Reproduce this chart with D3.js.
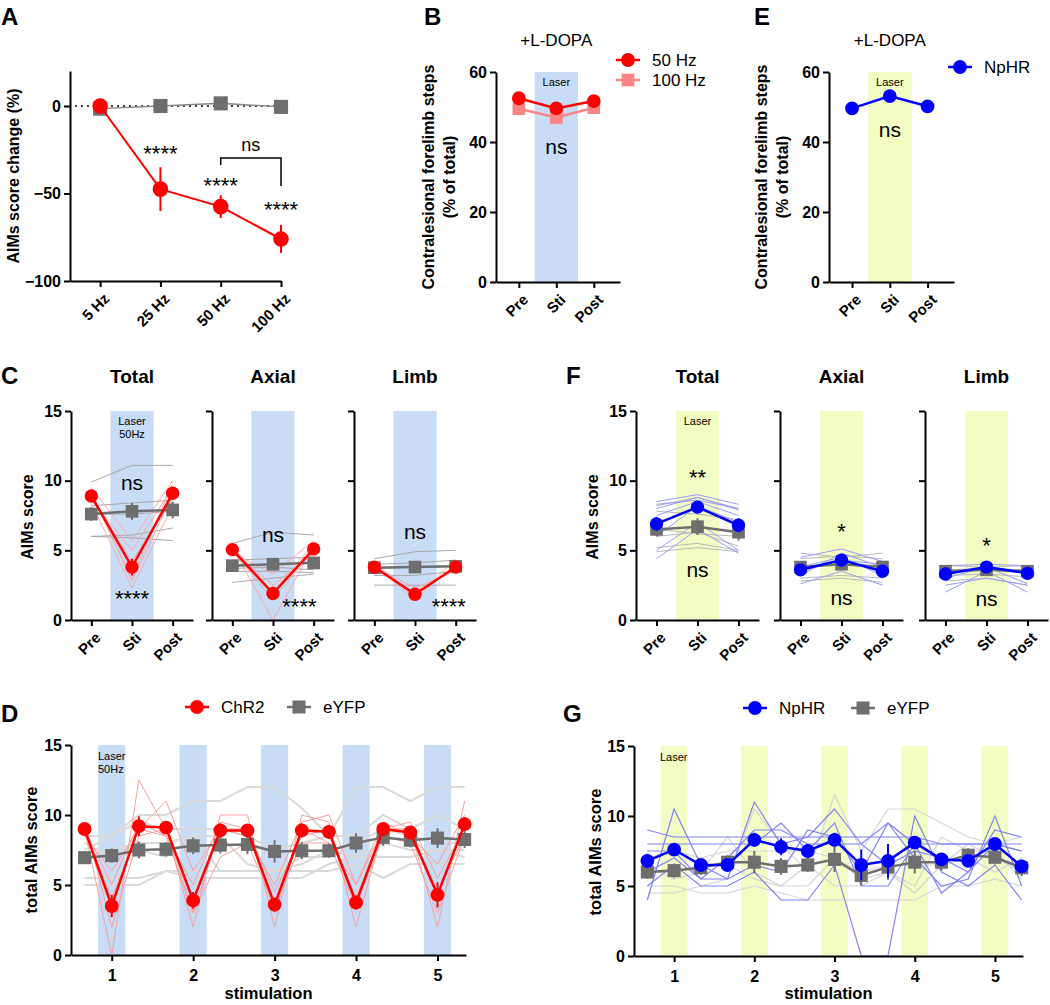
<!DOCTYPE html>
<html>
<head>
<meta charset="UTF-8">
<title>AIMs figure</title>
<script src="https://cdn.jsdelivr.net/npm/d3@7"></script>
<style>
body { margin: 0; background: #fff; }
svg text { font-family: "Liberation Sans", Arial, sans-serif; }
</style>
</head>
<body>
<svg id="fig" width="1050" height="1005"></svg>
<script>
// ---------- data ----------
// A: frequency dependence
var freqLabels = ["5 Hz", "25 Hz", "50 Hz", "100 Hz"];
var aChR2 = [0, -47.5, -57.5, -76];
var aChR2Err = [0, 12.5, 6.5, 8];
var aEyfp = [-1.5, 0, 1.5, -0.5];

// B / E: forelimb steps
var phases = ["Pre", "Sti", "Post"];
var b50Hz = [52.5, 49.6, 51.7];
var b100Hz = [49.5, 47.0, 49.8];
var eNpHR = [49.6, 53.1, 50.2];

// C: ChR2 vs eYFP, AIMs scores (Total, Axial, Limb)
var cTitles = ["Total", "Axial", "Limb"];
var cChR2 = [[8.9, 3.8, 9.1], [5.05, 1.9, 5.1], [3.8, 1.85, 3.8]];
var cChR2Err = [[0.3, 0.6, 0.3], [0.2, 0.35, 0.2], [0.15, 0.2, 0.2]];
var cEyfp = [[7.6, 7.8, 7.9], [3.9, 4.0, 4.1], [3.75, 3.8, 3.85]];
var cEyfpErr = [[0.5, 0.6, 0.6], [0.3, 0.3, 0.3], [0.2, 0.2, 0.2]];
var cChR2Ind = [
  [[9.5, 5.7, 10.0], [8.6, 5.0, 9.5], [8.8, 4.2, 8.7], [9.2, 2.8, 9.0], [8.4, 2.3, 8.2], [9.0, 3.0, 9.8]],
  [[4.8, 3.3, 5.7], [5.2, 0.0, 5.3], [5.0, 2.5, 4.8], [4.9, 1.5, 5.0], [5.3, 2.0, 5.5]],
  [[3.9, 1.5, 4.0], [3.6, 2.0, 3.7], [4.1, 1.7, 4.3], [3.8, 2.3, 3.5]]
];
var cEyfpInd = [
  [[9.9, 11.1, 11.1], [8.2, 8.4, 8.6], [6.0, 6.1, 6.6], [6.0, 5.9, 5.7], [7.6, 7.6, 7.8]],
  [[5.5, 6.3, 6.1], [4.3, 4.4, 4.5], [2.7, 3.0, 3.3], [3.5, 3.5, 3.4], [3.7, 3.8, 3.6]],
  [[4.4, 4.9, 5.0], [2.5, 2.5, 2.5], [3.2, 3.2, 3.5], [4.0, 4.1, 4.3], [3.7, 3.8, 3.9]]
];
var cStats = [["ns", "****"], ["ns", "****"], ["ns", "****"]];

// F: NpHR vs eYFP
var fNpHR = [[6.9, 8.1, 6.8], [3.6, 4.3, 3.5], [3.3, 3.8, 3.35]];
var fNpHRErr = [[0.5, 0.4, 0.5], [0.2, 0.3, 0.2], [0.2, 0.2, 0.2]];
var fEyfp = [[6.5, 6.7, 6.3], [3.8, 4.0, 3.8], [3.5, 3.6, 3.5]];
var fEyfpErr = [[0.5, 0.6, 0.6], [0.3, 0.3, 0.3], [0.2, 0.2, 0.2]];
var fNpHRInd = [
  [[8.5, 9.0, 8.3], [8.0, 8.8, 7.9], [7.5, 8.5, 7.5], [5.0, 7.0, 5.0], [4.4, 6.5, 4.8], [6.0, 8.2, 7.0], [8.3, 8.6, 8.0]],
  [[3.2, 4.8, 3.8], [2.6, 3.5, 2.5], [4.5, 5.1, 4.2], [3.8, 4.5, 3.2], [3.5, 4.3, 4.0]],
  [[2.0, 3.5, 2.0], [3.9, 4.0, 3.9], [3.0, 3.8, 2.6], [2.5, 3.0, 2.5]]
];
var fEyfpInd = [
  [[8.2, 8.8, 8.0], [6.0, 6.3, 5.3], [5.2, 5.5, 5.0], [4.9, 5.2, 4.9], [7.8, 7.6, 7.2], [6.5, 6.2, 6.0]],
  [[4.8, 4.5, 4.8], [4.4, 4.6, 4.4], [3.0, 3.2, 3.0], [2.8, 3.0, 2.7], [3.8, 4.0, 3.9]],
  [[3.9, 3.8, 3.9], [2.8, 3.0, 2.5], [3.2, 3.3, 3.1], [3.6, 3.7, 3.6]]
];
var fStats = [["**", "ns"], ["*", "ns"], ["*", "ns"]];

// D / G: total AIMs across 5 stimulations (pre, sti, post triplets)
var stimTicks = [1, 2, 3, 4, 5];
var dChR2 = [9.0, 3.5, 9.2, 9.1, 3.9, 8.9, 8.9, 3.6, 8.9, 8.8, 3.75, 9.0, 8.75, 4.3, 9.35];
var dChR2Err = [0.3, 0.8, 0.7, 0.4, 0.6, 0.5, 0.4, 0.5, 0.5, 0.5, 0.5, 0.4, 0.4, 0.9, 0.5];
var dEyfp = [6.95, 7.1, 7.5, 7.55, 7.8, 7.85, 7.9, 7.4, 7.45, 7.45, 8.0, 8.4, 8.2, 8.35, 8.25];
var dEyfpErr = [0.4, 0.5, 0.6, 0.5, 0.6, 0.6, 0.7, 0.8, 0.6, 0.5, 0.7, 0.6, 0.5, 0.7, 0.6];
var dChR2Ind = [
  [9.0, 0.0, 12.5, 9.0, 2.0, 10.0, 10.0, 2.0, 10.0, 9.5, 2.0, 9.0, 9.0, 2.0, 11.0],
  [8.5, 6.0, 9.0, 11.0, 6.0, 9.0, 8.5, 5.0, 9.5, 10.0, 5.0, 9.5, 8.5, 6.5, 10.0],
  [9.5, 2.0, 8.5, 9.0, 3.0, 7.0, 8.0, 3.5, 8.0, 8.0, 3.5, 8.5, 8.0, 3.0, 8.5],
  [9.0, 5.0, 9.5, 8.5, 5.0, 9.5, 9.0, 4.5, 8.5, 9.0, 4.0, 9.0, 9.5, 5.5, 9.0],
  [9.0, 4.0, 9.0, 8.5, 3.0, 9.0, 9.0, 3.0, 9.0, 8.0, 5.0, 9.0, 9.0, 4.5, 8.5]
];
var dEyfpInd = [
  [7.5, 8.5, 10.0, 10.0, 11.0, 11.0, 12.0, 12.0, 10.5, 8.5, 12.0, 12.0, 11.0, 12.0, 12.0],
  [8.5, 8.5, 9.5, 9.0, 9.0, 9.0, 8.5, 7.5, 8.0, 8.5, 8.5, 10.0, 9.0, 10.0, 9.0],
  [5.5, 5.5, 5.5, 6.0, 6.0, 6.0, 6.0, 6.0, 6.0, 6.0, 6.5, 5.5, 6.5, 6.5, 6.5],
  [5.0, 5.0, 5.0, 6.0, 5.5, 5.5, 5.5, 5.5, 5.5, 6.5, 7.0, 7.0, 7.0, 7.5, 7.0],
  [7.0, 7.5, 8.0, 8.0, 8.5, 8.5, 6.5, 6.0, 6.5, 7.5, 7.0, 8.0, 7.5, 7.5, 7.5],
  [8.0, 7.0, 7.5, 7.0, 8.5, 6.0, 6.0, 6.0, 7.0, 7.0, 8.0, 9.0, 8.5, 8.0, 8.0]
];
var gNpHR = [6.8, 7.6, 6.5, 6.5, 8.3, 7.8, 7.5, 8.3, 6.5, 6.8, 8.1, 6.9, 6.8, 8.0, 6.4];
var gNpHRErr = [0.5, 0.4, 0.4, 0.4, 0.5, 0.6, 0.5, 0.5, 1.1, 1.2, 0.4, 0.4, 0.4, 0.4, 0.4];
var gEyfp = [6.0, 6.1, 6.3, 6.7, 6.7, 6.4, 6.5, 6.9, 5.75, 6.35, 6.7, 6.7, 7.2, 7.05, 6.3];
var gEyfpErr = [0.5, 0.5, 0.5, 0.5, 0.8, 0.6, 0.5, 0.9, 0.7, 0.9, 0.8, 0.6, 0.5, 0.5, 0.6];
var gNpHRInd = [
  [9.0, 8.5, 8.5, 8.5, 8.5, 8.5, 8.5, 8.5, 8.5, 8.5, 8.5, 8.0, 8.0, 8.0, 8.0],
  [4.0, 10.5, 6.5, 5.5, 11.0, 8.0, 8.5, 10.5, 8.0, 9.5, 7.0, 5.0, 5.5, 10.0, 5.0],
  [5.0, 6.5, 5.0, 5.0, 6.0, 4.0, 4.0, 6.5, 0.0, 0.0, 10.0, 6.0, 5.0, 6.5, 4.0],
  [8.0, 8.0, 8.0, 8.0, 8.0, 9.5, 7.5, 9.5, 5.0, 5.0, 8.0, 8.0, 8.0, 8.0, 7.5],
  [7.5, 7.5, 5.5, 5.5, 6.5, 6.0, 9.0, 8.5, 6.0, 9.5, 8.0, 4.5, 6.0, 9.0, 8.5],
  [6.0, 7.0, 5.5, 7.0, 9.0, 9.0, 8.0, 8.0, 8.0, 6.5, 7.5, 7.0, 6.0, 8.0, 7.5]
];
var gEyfpInd = [
  [4.5, 4.5, 5.0, 5.5, 10.5, 8.0, 6.0, 11.5, 7.5, 10.5, 10.5, 9.5, 8.5, 8.0, 8.5],
  [5.0, 5.0, 4.5, 4.5, 5.0, 4.5, 4.0, 4.0, 4.0, 4.0, 4.0, 5.0, 5.0, 5.5, 5.0],
  [6.5, 5.5, 6.0, 8.5, 6.0, 5.0, 5.0, 7.0, 5.5, 6.0, 5.0, 8.5, 7.5, 7.5, 5.5],
  [7.0, 7.5, 7.0, 7.5, 7.5, 7.5, 7.5, 7.0, 6.0, 6.5, 6.5, 6.5, 7.0, 6.0, 7.0],
  [6.0, 6.0, 6.5, 6.5, 5.5, 5.0, 6.5, 5.0, 5.0, 6.0, 4.5, 6.5, 8.0, 7.0, 6.0]
];

// ---------- colours ----------
var RED = "#ff0000", PINK = "#f98585", GREY = "#6e6e6e", BLUE = "#0000ff";
var BLUEBAND = "#c8dcf6", YELLOWBAND = "#f3fcc2";

var svg = d3.select("#fig");

// ---------- helpers ----------
function styleAxis(a, size) {
  a.select(".domain").attr("stroke", "#000").attr("stroke-width", 2);
  a.selectAll(".tick line").attr("stroke", "#000").attr("stroke-width", 2);
  a.selectAll(".tick text").attr("font-size", size).attr("font-weight", "bold")
    .attr("fill", "#000").attr("font-family", "Liberation Sans, Arial, sans-serif");
}
function rotLabels(a, dx, dy) {
  a.selectAll(".tick text").attr("text-anchor", "end").attr("x", 0).attr("y", 0)
    .attr("dy", "0.35em").attr("transform", "translate(" + dx + "," + dy + ") rotate(-45)");
}
function yAxis(g, x0, y, ticks, showLabels) {
  var a = g.append("g").attr("transform", "translate(" + x0 + ",0)")
    .call(d3.axisLeft(y).tickValues(ticks).tickSize(6).tickSizeOuter(0)
      .tickFormat(showLabels ? d3.format("d") : ""));
  styleAxis(a, 16);
  return a;
}
function xAxis(g, y0, x, ticks, labels, size) {
  var a = g.append("g").attr("transform", "translate(0," + y0 + ")")
    .call(d3.axisBottom(x).tickValues(ticks).tickSize(6).tickSizeOuter(0)
      .tickFormat(function(d, i) { return labels[i]; }));
  styleAxis(a, size);
  return a;
}
function text(g, x, y, s, size, opts) {
  opts = opts || {};
  return g.append("text").attr("x", x).attr("y", y).text(s)
    .attr("font-size", size).attr("font-weight", opts.bold ? "bold" : "normal")
    .attr("text-anchor", opts.anchor || "middle").attr("fill", "#000");
}
function yLabel(g, x, y, s, size) {
  g.append("text").attr("transform", "translate(" + x + "," + y + ") rotate(-90)")
    .attr("text-anchor", "middle").attr("font-size", size).attr("font-weight", "bold").text(s);
}
function indiv(g, x, y, xs, rows, color, w) {
  var line = d3.line().x(function(d, i) { return x(xs[i]); }).y(function(d) { return y(d); });
  g.append("g").selectAll("path").data(rows).enter().append("path")
    .attr("d", line).attr("fill", "none").attr("stroke", color).attr("stroke-width", w);
}
function series(g, x, y, xs, vals, errs, color, shape, lw, size, lineColor) {
  var line = d3.line().x(function(d, i) { return x(xs[i]); }).y(function(d) { return y(d); });
  var s = g.append("g");
  s.append("path").datum(vals).attr("d", line).attr("fill", "none")
    .attr("stroke", lineColor || color).attr("stroke-width", lw);
  if (errs) {
    s.selectAll("line.err").data(vals).enter().append("line")
      .attr("x1", function(d, i) { return x(xs[i]); })
      .attr("x2", function(d, i) { return x(xs[i]); })
      .attr("y1", function(d, i) { return y(d - errs[i]); })
      .attr("y2", function(d, i) { return y(d + errs[i]); })
      .attr("stroke", color).attr("stroke-width", 2);
  }
  var sym = d3.symbol().type(shape === "square" ? d3.symbolSquare : d3.symbolCircle).size(size);
  s.selectAll("path.m").data(vals).enter().append("path")
    .attr("d", sym).attr("fill", color)
    .attr("transform", function(d, i) { return "translate(" + x(xs[i]) + "," + y(d) + ")"; });
}
function legendItem(g, x, y, color, shape, label, size) {
  g.append("line").attr("x1", x - 12).attr("x2", x + 12).attr("y1", y).attr("y2", y)
    .attr("stroke", color).attr("stroke-width", 2.5);
  g.append("path").attr("d", d3.symbol().type(shape === "square" ? d3.symbolSquare : d3.symbolCircle).size(size)())
    .attr("fill", color).attr("transform", "translate(" + x + "," + y + ")");
  text(g, x + 24, y + 6, label, 17, { anchor: "start" });
}
function panelLetter(x, y, s) {
  svg.append("text").attr("x", x).attr("y", y).text(s)
    .attr("font-size", 24).attr("font-weight", "bold")
    .attr("font-family", "DejaVu Sans, sans-serif");
}

// ---------- Panel A ----------
(function() {
  var g = svg.append("g");
  var x = d3.scaleLinear().domain([-0.5, 3]).range([70, 281]);
  var y = d3.scaleLinear().domain([-100, 20]).range([281, 71]);
  var idx = d3.range(freqLabels.length);
  g.append("line").attr("x1", 75).attr("x2", x(3)).attr("y1", y(0)).attr("y2", y(0))
    .attr("stroke", "#000").attr("stroke-width", 1.5).attr("stroke-dasharray", "2,4");
  series(g, x, y, idx, aEyfp, null, GREY, "square", 1.5, 200, "#888");
  series(g, x, y, idx, aChR2, aChR2Err, RED, "circle", 2, 190);
  yAxis(g, 70, y, [-100, -50, 0], true);
  rotLabels(xAxis(g, 281, x, idx, freqLabels, 15), 6, 15);
  yLabel(g, 19, 176, "AIMs score change (%)", 16);
  text(g, x(1), 161, "****", 22);
  text(g, x(2), 193, "****", 22);
  text(g, x(3), 217, "****", 22);
  g.append("path").attr("d", "M" + x(2) + ",165V158H" + x(3) + "V186")
    .attr("fill", "none").attr("stroke", "#000").attr("stroke-width", 1.5);
  text(g, (x(2) + x(3)) / 2, 151, "ns", 18);
})();

// ---------- Panels B and E ----------
function stepsPanel(x0, x1, band, draw, legend) {
  var g = svg.append("g");
  var x = d3.scaleLinear().domain([-0.61, 2.7]).range([x0, x1]);
  var y = d3.scaleLinear().domain([0, 60]).range([282, 72]);
  g.append("rect").attr("x", x(0.42)).attr("width", x(1.58) - x(0.42))
    .attr("y", y(60)).attr("height", y(0) - y(60)).attr("fill", band);
  text(g, x(1), 86, "Laser", 11);
  text(g, x(1), 46, "+L-DOPA", 17);
  draw(g, x, y);
  yAxis(g, x0, y, [0, 20, 40, 60], true);
  rotLabels(xAxis(g, 282, x, [0, 1, 2], phases, 15), 6, 15);
  yLabel(g, x0 - 62, 177, "Contralesional forelimb steps", 16);
  yLabel(g, x0 - 41, 177, "(% of total)", 16);
  legend(g);
  return { g: g, x: x, y: y };
}
stepsPanel(496, 620, BLUEBAND, function(g, x, y) {
  series(g, x, y, [0, 1, 2], b100Hz, null, PINK, "square", 2.5, 160);
  series(g, x, y, [0, 1, 2], b50Hz, null, RED, "circle", 2.5, 150);
  text(g, x(1), 154, "ns", 21);
}, function(g) {
  legendItem(g, 628, 60, RED, "circle", "50 Hz", 150);
  legendItem(g, 628, 80, PINK, "square", "100 Hz", 160);
});
stepsPanel(829, 954, YELLOWBAND, function(g, x, y) {
  series(g, x, y, [0, 1, 2], eNpHR, null, BLUE, "circle", 2.5, 150);
  text(g, x(1), 137, "ns", 21);
}, function(g) {
  legendItem(g, 960, 67, BLUE, "circle", "NpHR", 150);
});

// ---------- Panels C and F ----------
function scorePanel(lefts, width, band, grpMean, grpErr, grpInd, grpColor, grpIndColor, eyMean, eyErr, eyInd, eyIndColor, stats, statY, laser) {
  lefts.forEach(function(x0, k) {
    var g = svg.append("g");
    var x = d3.scaleLinear().domain([-0.5, 2.5]).range([x0, x0 + width]);
    var y = d3.scaleLinear().domain([0, 15]).range([620, 411]);
    g.append("rect").attr("x", x(0.47)).attr("width", x(1.53) - x(0.47))
      .attr("y", y(15)).attr("height", y(0) - y(15)).attr("fill", band);
    if (k === 0) {
      laser.forEach(function(s, j) { text(g, x(1), 425 + j * 13, s, 11); });
    }
    indiv(g, x, y, [0, 1, 2], eyInd[k], eyIndColor, 1);
    indiv(g, x, y, [0, 1, 2], grpInd[k], grpIndColor, 1);
    series(g, x, y, [0, 1, 2], eyMean[k], eyErr[k], GREY, "square", 2.5, 160);
    series(g, x, y, [0, 1, 2], grpMean[k], grpErr[k], grpColor, "circle", 2.5, 140);
    yAxis(g, x0, y, [0, 5, 10, 15], k === 0);
    rotLabels(xAxis(g, 620, x, [0, 1, 2], phases, 15), 6, 15);
    text(g, x(1), 383, cTitles[k], 19, { bold: true });
    stats[k].forEach(function(s, j) {
      var pos = statY[k][j];
      text(g, x(pos[0]), pos[1], s, s === "ns" ? 21 : 22);
    });
  });
}
scorePanel([71, 212, 354], 122, BLUEBAND, cChR2, cChR2Err, cChR2Ind, RED, "#f7a9a9",
  cEyfp, cEyfpErr, cEyfpInd, "#a8a8a8", cStats,
  [[[1, 490], [1, 606]], [[1, 542], [1.65, 614]], [[1, 539], [1.83, 614]]], ["Laser", "50Hz"]);
yLabel(svg, 33, 517, "AIMs score", 16);

scorePanel([636, 780, 925], 123, YELLOWBAND, fNpHR, fNpHRErr, fNpHRInd, BLUE, "#9a9aff",
  fEyfp, fEyfpErr, fEyfpInd, "#b8b8b8", fStats,
  [[[1, 485], [1, 577]], [[1, 539], [1, 605]], [[1, 553], [1, 606]]], ["Laser"]);
yLabel(svg, 598, 517, "AIMs score", 16);

// ---------- Panels D and G ----------
function timePanel(x0, x1, yTop, yBot, band, grp, grpErr, grpInd, grpColor, grpIndColor, grpIndW,
                   ey, eyErr, eyInd, eyIndColor, eyIndW, laserX, laser) {
  var g = svg.append("g");
  var x = d3.scaleLinear().domain([0.5, 5.35]).range([x0, x1]);
  var y = d3.scaleLinear().domain([0, 15]).range([yBot, yTop]);
  var xs = grp.map(function(d, i) { return (i + 2) / 3; });
  g.selectAll("rect.band").data(stimTicks).enter().append("rect")
    .attr("x", function(d) { return x(d - 1 / 6); })
    .attr("width", function(d) { return x(d + 1 / 6) - x(d - 1 / 6); })
    .attr("y", y(15)).attr("height", y(0) - y(15)).attr("fill", band);
  laser.forEach(function(s, j) { text(g, laserX, yTop + 15 + j * 13, s, 11, { anchor: "start" }); });
  indiv(g, x, y, xs, eyInd, eyIndColor, eyIndW);
  indiv(g, x, y, xs, grpInd, grpIndColor, grpIndW);
  series(g, x, y, xs, ey, eyErr, GREY, "square", 2.5, 170);
  series(g, x, y, xs, grp, grpErr, grpColor, "circle", 2.5, 150);
  yAxis(g, x0, y, [0, 5, 10, 15], true);
  var a = xAxis(g, yBot, x, stimTicks, stimTicks.map(String), 16);
  a.selectAll(".tick text").attr("dy", "1.05em");
  text(g, (x0 + x1) / 2, 999, "stimulation", 16.5, { bold: true });
  return g;
}
var gD = timePanel(71, 466, 745, 955, BLUEBAND, dChR2, dChR2Err, dChR2Ind, RED, "#f7a0a0", 1,
  dEyfp, dEyfpErr, dEyfpInd, "#dadada", 2, 98, ["Laser", "50Hz"]);
yLabel(svg, 37, 850, "total AIMs score", 16.5);
legendItem(gD, 197, 707, RED, "circle", "ChR2", 150);
legendItem(gD, 299, 707, GREY, "square", "eYFP", 170);

var gG = timePanel(634, 1023, 746, 956, YELLOWBAND, gNpHR, gNpHRErr, gNpHRInd, BLUE, "#8282f2", 1.2,
  gEyfp, gEyfpErr, gEyfpInd, "#d4d4d4", 1.2, 660, ["Laser"]);
yLabel(svg, 601, 852, "total AIMs score", 16.5);
legendItem(gG, 755, 708, BLUE, "circle", "NpHR", 150);
legendItem(gG, 863, 708, GREY, "square", "eYFP", 170);

// ---------- panel letters ----------
panelLetter(1, 25, "A");
panelLetter(424, 25, "B");
panelLetter(754, 25, "E");
panelLetter(1, 384, "C");
panelLetter(566, 384, "F");
panelLetter(1, 722, "D");
panelLetter(563, 722, "G");
</script>
</body>
</html>
